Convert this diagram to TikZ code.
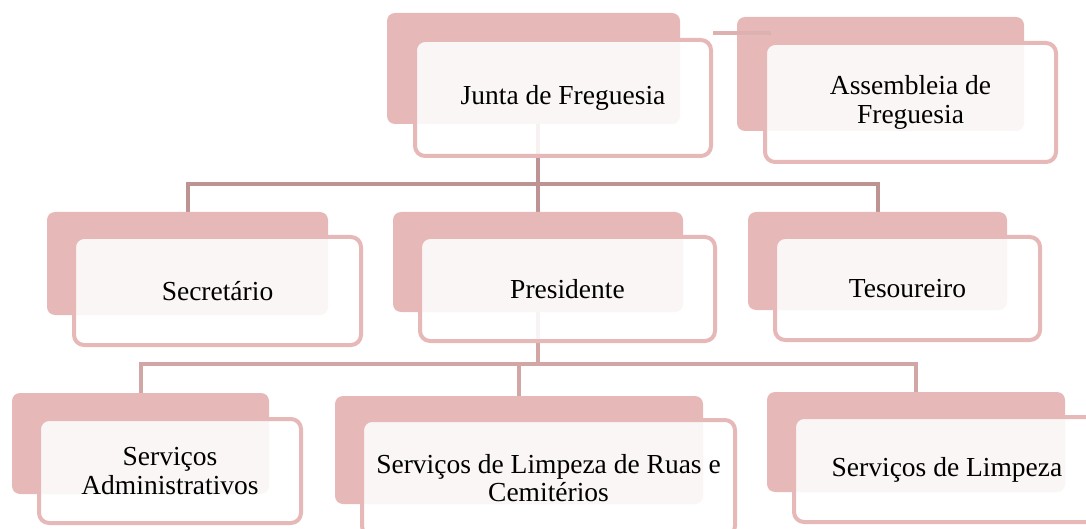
\documentclass[tikz,border=0pt]{standalone}
\usepackage{fontspec}
\setmainfont{Liberation Serif}
\usetikzlibrary{backgrounds}
\definecolor{rosa}{HTML}{E6B8B7}
\definecolor{ligacao}{HTML}{BE9493}
\definecolor{ligacaoclara}{HTML}{D3A6A6}
\definecolor{ligacaotopo}{HTML}{DDB1B0}
\begin{document}
\begin{tikzpicture}[x=1pt, y=-1pt, line join=round,
    fundo/.style={fill=rosa, rounded corners=8pt, inner sep=0pt},
    frente/.style={draw=rosa, line width=4pt, fill=white, fill opacity=0.88, text opacity=1,
        rounded corners=10pt, inner sep=0pt, align=center, font=\fontsize{27.5}{28.5}\selectfont},
    ligacaolinha/.style={line width=4pt}
    ]
    \path[use as bounding box, clip] (0,0) rectangle (1086,529);
    \coordinate (barra1) at (0,184);
    \coordinate (barra2) at (0,364);
    \coordinate (nivel) at (0,33);
    % caixas de fundo
    \foreach \n/\x/\y/\w/\h in {junta/533.5/68.5/293/111, assembleia/880.5/74/287/114,
        secretario/187.5/263.5/281/103, presidente/538/262/290/100, tesoureiro/877.5/261/259/98,
        servadm/140.5/443.5/257/101, servruas/519/450/368/108, servlimp/916/442/298/100}
    \node[fundo, minimum width=\w, minimum height=\h] (\n-b) at (\x,\y) {};
    % caixas da frente
    \node[frente, minimum width=296, minimum height=116] (junta) at (563,98) {Junta de Freguesia};
    \draw[ligacaotopo, ligacaolinha] (junta.east |- nivel) -- ([xshift=34pt]assembleia-b.west |- nivel);
    \node[frente, minimum width=291, minimum height=119] (assembleia) at (910.5,102.5) {Assembleia de\\Freguesia};
    \node[frente, minimum width=287, minimum height=108] (secretario) at (217.5,291) {Secretário};
    \node[frente, minimum width=295, minimum height=104] (presidente) at (567.5,289) {Presidente};
    \node[frente, minimum width=265, minimum height=103] (tesoureiro) at (907.5,288.5) {Tesoureiro};
    \node[frente, minimum width=262, minimum height=104] (servadm) at (170,471) {Serviços\\Administrativos};
    \node[frente, minimum width=373, minimum height=116] (servruas) at (548.5,478) {Serviços de Limpeza de Ruas e\\Cemitérios};
    \node[frente, minimum width=306, minimum height=105] (servlimp) at (947,469.5) {Serviços de Limpeza};
    % ligações
    \begin{scope}[on background layer]
    \draw[ligacao, ligacaolinha] (presidente-b.north |- junta-b.south) -- (presidente-b.north)
        (secretario-b.north) |- (barra1 -| tesoureiro-b.north) -- (tesoureiro-b.north);
    \draw[ligacaoclara, ligacaolinha] (presidente-b.south) -- (presidente-b.south |- barra2)
        (servadm-b.north) |- (barra2 -| servlimp-b.north) -- (servlimp-b.north)
        (servruas-b.north) -- (servruas-b.north |- barra2);
    \end{scope}
\end{tikzpicture}
\end{document}
